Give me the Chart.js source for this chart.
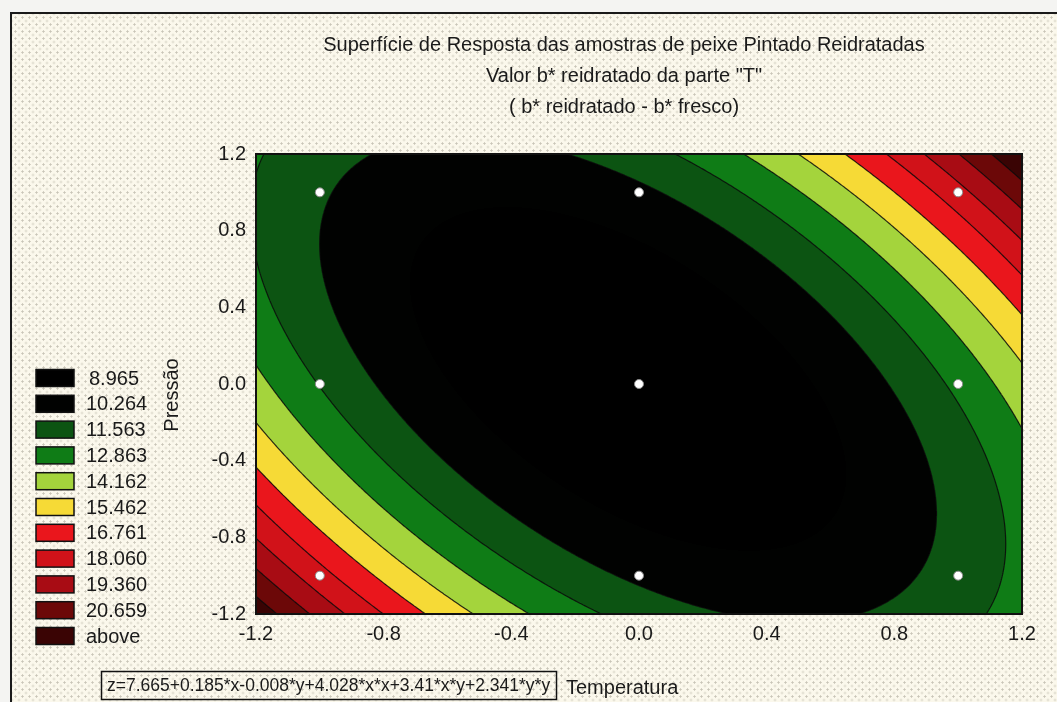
<!DOCTYPE html>
<html>
<head>
<meta charset="utf-8">
<script src="https://cdn.jsdelivr.net/npm/chart.js@4.4.1/dist/chart.umd.min.js"></script>
<style>
  html, body { margin: 0; padding: 0; background: #f4f4f2; }
  #wrap { position: relative; width: 1057px; height: 702px; overflow: hidden; }
  #paper {
    position: absolute; left: 10px; top: 12px; width: 1060px; height: 700px;
    border-left: 2px solid #1a1a1a; border-top: 2px solid #1a1a1a;
    background-color: #fbf8ec;
    background-image:
      radial-gradient(circle, rgba(140,135,120,0.45) 0.9px, transparent 1.3px),
      radial-gradient(circle, rgba(140,135,120,0.30) 0.9px, transparent 1.3px);
    background-size: 7px 7px, 7px 7px;
    background-position: 0 0, 3.5px 3.5px;
  }
  #c { position: absolute; left: 0; top: 0; }
</style>
</head>
<body>
<div id="wrap">
  <div id="paper"></div>
  <canvas id="c" width="1057" height="702"></canvas>
</div>
<script>
// Fitted response surface: z = b0 + bx*x + by*y + bxx*x*x + bxy*x*y + byy*y*y
const coefNames = ['', 'x', 'y', 'x*x', 'x*y', 'y*y'];
const coefValues = [7.665, 0.185, -0.008, 4.028, 3.41, 2.341];

// Contour level upper bounds and their fill colours (last colour = "above")
const levels = [8.965, 10.264, 11.563, 12.863, 14.162, 15.462, 16.761, 18.060, 19.360, 20.659];
const levelLabels = ['8.965', '10.264', '11.563', '12.863', '14.162', '15.462', '16.761', '18.060', '19.360', '20.659', 'above'];
const bandColors = ['#000000', '#010201', '#0c5412', '#0f7c16', '#a4d43c', '#f6da36', '#ea161c', '#d11219', '#a80c14', '#6c0808', '#3a0404'];

// Experimental design points (coded Temperatura / Pressão)
const designX = [-1, -1, -1, 0, 0, 0, 1, 1, 1];
const designY = [-1, 0, 1, -1, 0, 1, -1, 0, 1];

// Axis ticks
const xTicks = [-1.2, -0.8, -0.4, 0.0, 0.4, 0.8, 1.2];
const yTicks = [-1.2, -0.8, -0.4, 0.0, 0.4, 0.8, 1.2];

const titleLines = [
  'Superfície de Resposta das amostras de peixe Pintado Reidratadas',
  'Valor b* reidratado da parte "T"',
  '( b* reidratado - b* fresco)'
];
const xTitle = 'Temperatura';
const yTitle = 'Pressão';

function surface(x, y) {
  const terms = [1, x, y, x * x, x * y, y * y];
  let z = 0;
  for (let i = 0; i < terms.length; i++) z += coefValues[i] * terms[i];
  return z;
}

function bandIndex(z) {
  for (let i = 0; i < levels.length; i++) if (z <= levels[i]) return i;
  return levels.length;
}

function hexToRgb(h) {
  const n = parseInt(h.slice(1), 16);
  return [(n >> 16) & 255, (n >> 8) & 255, n & 255];
}

function formatCoef(v) {
  // small coefficients keep their three decimals (0.008)
  if (v < 0.1 && v > 0) return v.toFixed(3);
  return v.toString();
}

function equationText() {
  let s = 'z=' + coefValues[0];
  for (let i = 1; i < coefValues.length; i++) {
    const v = coefValues[i];
    s += (v < 0 ? '-' : '+') + formatCoef(Math.abs(v)) + '*' + coefNames[i];
  }
  return s;
}

const FONT = '"Liberation Sans", Arial, sans-serif';

// Filled contour bands + contour lines, drawn through the chart scales
const contourPlugin = {
  id: 'contourBands',
  beforeDatasetsDraw(chart) {
    const { ctx, chartArea } = chart;
    const xs = chart.scales.x, ys = chart.scales.y;
    const L = Math.round(chartArea.left), T = Math.round(chartArea.top);
    const W = Math.round(chartArea.right) - L, H = Math.round(chartArea.bottom) - T;
    const off = document.createElement('canvas');
    off.width = W; off.height = H;
    const octx = off.getContext('2d');
    const img = octx.createImageData(W, H);
    const rgb = bandColors.map(hexToRgb);
    for (let j = 0; j < H; j++) {
      const yv = ys.getValueForPixel(T + j + 0.5);
      for (let i = 0; i < W; i++) {
        const xv = xs.getValueForPixel(L + i + 0.5);
        const c = rgb[bandIndex(surface(xv, yv))];
        const p = (j * W + i) * 4;
        img.data[p] = c[0]; img.data[p + 1] = c[1]; img.data[p + 2] = c[2]; img.data[p + 3] = 255;
      }
    }
    octx.putImageData(img, 0, 0);
    ctx.save();
    ctx.drawImage(off, L, T);

    // contour lines (marching squares in data space)
    const n = 220;
    const x0 = xs.min, x1 = xs.max, y0 = ys.min, y1 = ys.max;
    const dx = (x1 - x0) / n, dy = (y1 - y0) / n;
    const grid = [];
    for (let j = 0; j <= n; j++) {
      const row = [];
      for (let i = 0; i <= n; i++) row.push(surface(x0 + i * dx, y0 + j * dy));
      grid.push(row);
    }
    ctx.beginPath();
    ctx.rect(chartArea.left, chartArea.top, chartArea.right - chartArea.left, chartArea.bottom - chartArea.top);
    ctx.clip();
    ctx.strokeStyle = 'rgba(10,10,10,0.85)';
    ctx.lineWidth = 1.2;
    for (let k = 1; k < levels.length; k++) {
      const lv = levels[k];
      ctx.beginPath();
      for (let j = 0; j < n; j++) {
        for (let i = 0; i < n; i++) {
          const cx = [x0 + i * dx, x0 + (i + 1) * dx, x0 + (i + 1) * dx, x0 + i * dx];
          const cy = [y0 + j * dy, y0 + j * dy, y0 + (j + 1) * dy, y0 + (j + 1) * dy];
          const cv = [grid[j][i], grid[j][i + 1], grid[j + 1][i + 1], grid[j + 1][i]];
          const pts = [];
          for (let e = 0; e < 4; e++) {
            const a = e, b = (e + 1) % 4;
            const va = cv[a] - lv, vb = cv[b] - lv;
            if ((va < 0) !== (vb < 0)) {
              const t = va / (va - vb);
              pts.push([cx[a] + t * (cx[b] - cx[a]), cy[a] + t * (cy[b] - cy[a])]);
            }
          }
          for (let s = 0; s + 1 < pts.length; s += 2) {
            ctx.moveTo(xs.getPixelForValue(pts[s][0]), ys.getPixelForValue(pts[s][1]));
            ctx.lineTo(xs.getPixelForValue(pts[s + 1][0]), ys.getPixelForValue(pts[s + 1][1]));
          }
        }
      }
      ctx.stroke();
    }
    ctx.restore();
  }
};

// Titles, frame, legend and equation box
const decorPlugin = {
  id: 'decor',
  afterDraw(chart) {
    const { ctx, chartArea } = chart;
    ctx.save();
    // plot frame
    ctx.strokeStyle = '#111';
    ctx.lineWidth = 2;
    ctx.strokeRect(chartArea.left, chartArea.top, chartArea.right - chartArea.left, chartArea.bottom - chartArea.top);

    ctx.fillStyle = '#1a1a1a';
    ctx.textBaseline = 'middle';
    // title
    ctx.font = '20px ' + FONT;
    ctx.textAlign = 'center';
    const tY = [45, 76, 107];
    titleLines.forEach((t, i) => ctx.fillText(t, 624, tY[i]));

    // y axis title
    ctx.save();
    ctx.translate(172, 395);
    ctx.rotate(-Math.PI / 2);
    ctx.fillText(yTitle, 0, 0);
    ctx.restore();

    // x axis title
    ctx.textAlign = 'left';
    ctx.fillText(xTitle, 566, 688);

    // equation box
    ctx.strokeStyle = '#111';
    ctx.lineWidth = 1.5;
    ctx.strokeRect(101.5, 671.5, 455, 28);
    ctx.font = '17.5px ' + FONT;
    ctx.fillText(equationText(), 107, 686);

    // legend
    ctx.font = '20px ' + FONT;
    levelLabels.forEach((lab, i) => {
      const cy = 378 + i * 25.8;
      ctx.fillStyle = bandColors[i];
      ctx.fillRect(36, cy - 8.5, 38, 17);
      ctx.strokeStyle = '#111';
      ctx.lineWidth = 1.5;
      ctx.strokeRect(36, cy - 8.5, 38, 17);
      ctx.fillStyle = '#1a1a1a';
      ctx.fillText(lab, i === 0 ? 89 : 86, cy + 1);
    });
    ctx.restore();
  }
};

const tickFont = { family: FONT, size: 20 };

new Chart(document.getElementById('c'), {
  type: 'scatter',
  data: {
    datasets: [{
      data: designX.map((x, i) => ({ x: x, y: designY[i] })),
      pointRadius: 4.5,
      pointBackgroundColor: '#ffffff',
      pointBorderColor: '#8a8a8a',
      pointBorderWidth: 1,
      showLine: false
    }]
  },
  options: {
    responsive: false,
    animation: false,
    devicePixelRatio: 1,
    layout: { padding: { left: 206, top: 154, right: 35, bottom: 48 } },
    plugins: { legend: { display: false }, title: { display: false }, tooltip: { enabled: false } },
    scales: {
      x: {
        type: 'linear', min: -1.2, max: 1.2, z: 1,
        afterBuildTicks: s => { s.ticks = xTicks.map(v => ({ value: v })); },
        afterFit: s => { s.height = 40; },
        ticks: { callback: v => Number(v).toFixed(1), font: tickFont, color: '#1a1a1a', padding: 8, maxRotation: 0, autoSkip: false },
        grid: { drawTicks: false, color: 'rgba(190,190,190,0.28)', lineWidth: 1 },
        border: { display: false, dash: [2, 3] }
      },
      y: {
        type: 'linear', min: -1.2, max: 1.2, z: 1,
        afterBuildTicks: s => { s.ticks = yTicks.map(v => ({ value: v })); },
        afterFit: s => { s.width = 50; },
        ticks: { callback: v => Number(v).toFixed(1), font: tickFont, color: '#1a1a1a', padding: 10, autoSkip: false },
        grid: { drawTicks: false, color: 'rgba(190,190,190,0.28)', lineWidth: 1 },
        border: { display: false, dash: [2, 3] }
      }
    }
  },
  plugins: [contourPlugin, decorPlugin]
});
</script>
</body>
</html>
